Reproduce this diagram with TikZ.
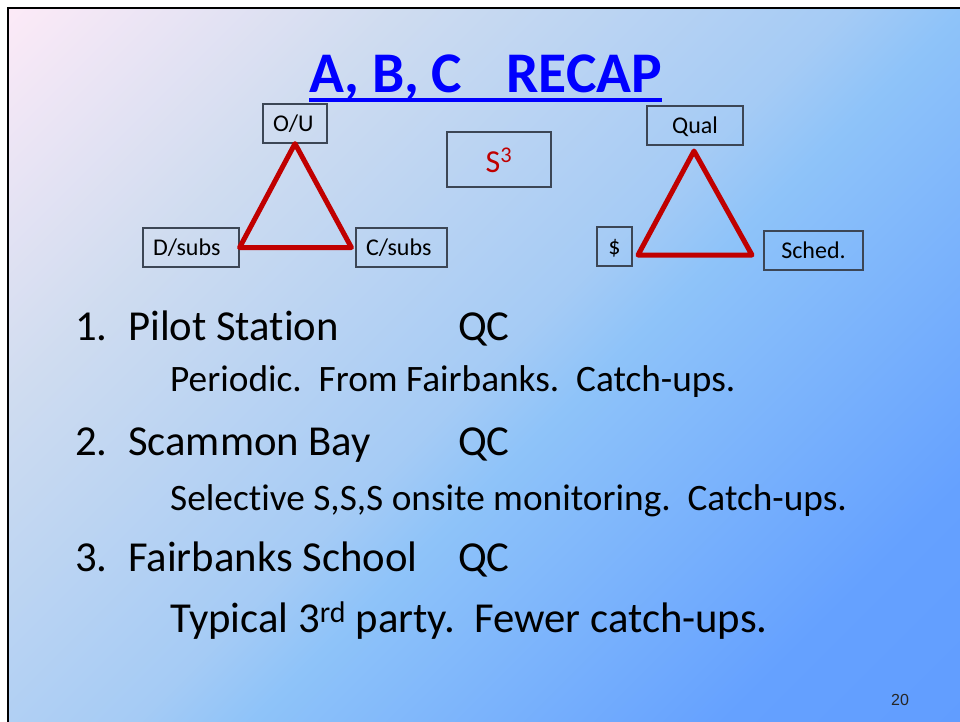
\documentclass[tikz,border=0pt]{standalone}
\usepackage{fontspec}
\setmainfont{Carlito}[Ligatures=NoCommon]
\newfontfamily\pagefont{Liberation Sans}
\usetikzlibrary{positioning}

\definecolor{gtop}{RGB}{252,234,247}
\definecolor{gquarter}{RGB}{207,220,240}
\definecolor{ghalf}{RGB}{165,203,245}
\definecolor{gmid}{RGB}{142,195,249}
\definecolor{glow}{RGB}{101,161,255}
\definecolor{gbot}{RGB}{97,157,255}
\definecolor{trired}{RGB}{192,0,0}
\definecolor{boxgray}{RGB}{60,70,85}
\definecolor{titleblue}{RGB}{0,0,255}

\pgfdeclareverticalshading{slidegrad}{100bp}{color(0bp)=(gbot); color(14.64bp)=(gbot);
  color(25bp)=(glow); color(45bp)=(gmid); color(50bp)=(ghalf); color(69bp)=(gquarter);
  color(85.36bp)=(gtop); color(100bp)=(gtop)}

\begin{document}
\begin{tikzpicture}[x=1pt,y=-1pt,
    lbox/.style={draw=boxgray,line width=1.2pt,inner ysep=0pt,minimum height=39pt,
                 text height=16pt,text depth=0pt,font=\fontsize{24}{28}\selectfont},
    lleft/.style={lbox,inner xsep=10pt,align=left},
    tri/.style={draw=trired,line width=5pt,line join=round},
    itemtext/.style={anchor=base west,inner sep=0pt,font=\fontsize{42.7}{50}\selectfont},
    subtext/.style={anchor=base west,inner sep=0pt,font=\fontsize{37.3}{44}\selectfont}]

   % Slide
      \useasboundingbox (0,0) rectangle (960,721);
      \fill[white] (0,0) rectangle (960,721);
      \shade[shading=slidegrad,shading angle=45] (8,8) rectangle (968,728);
      \draw[line width=2.7pt] (8,730) -- (8,8) -- (970,8);

   % Title
      \node[anchor=base west,inner sep=0pt,text=titleblue,font=\fontsize{57.5}{64}\bfseries]
            (title) at (309,92) {A, B, C\hspace{44pt}RECAP};
      \draw[titleblue,line width=3.5pt] ([yshift=-8pt]title.base west) -- ([yshift=-8pt]title.base east);

   % Nodes
      \node[lleft,text width=44pt]  (ou)    at (295,123.5)   {O/U};
      \node[lleft,text width=76pt]  (dsubs) at (191,247.5)   {D/subs};
      \node[lleft,text width=71pt]  (csubs) at (401.5,247.5) {C/subs};
      \node[lbox,minimum width=104pt,minimum height=55pt,text height=25pt,text=trired,
            font=\fontsize{32}{38}\selectfont] (sss) at (499,159.5) {S\textsuperscript{3}};
      \node[lbox,minimum width=96pt] (qual)  at (695,125.5)   {Qual};
      \node[lbox,minimum width=35pt] (cost)  at (614.5,246.5) {\$};
      \node[lbox,minimum width=99pt] (sched) at (813.5,250.5) {Sched.};

      \coordinate (qtop)   at (694,151);
      \coordinate (qleft)  at (638,255);
      \coordinate (qright) at (752,255);

   % Paths
      \draw[tri] (ou.south) -- (dsubs.east) -- ([xshift=-4pt]csubs.west) -- cycle;
      \draw[tri] (qtop) -- (qleft) -- (qright) -- cycle;

   % List
      \node[itemtext] (n1) at (75,340)  {1.};
      \node[itemtext] (p1) at (128,340) {Pilot Station};
      \node[itemtext] (q1) at (458,340) {QC};
      \node[subtext]  (d1) at (170,391) {Periodic.\ \ From Fairbanks.\ \ Catch-ups.};
      \node[itemtext] (n2) at (75,455)  {2.};
      \node[itemtext] (p2) at (128,455) {Scammon Bay};
      \node[itemtext] (q2) at (458,455) {QC};
      \node[subtext]  (d2) at (170,510) {Selective S,S,S onsite monitoring.\ \ Catch-ups.};
      \node[itemtext] (n3) at (75,571)  {3.};
      \node[itemtext] (p3) at (128,571) {Fairbanks School};
      \node[itemtext] (q3) at (458,571) {QC};
      \node[itemtext] (d3) at (170,632) {Typical 3\textsuperscript{rd} party.\ \ Fewer catch-ups.};

      \node[anchor=base west,inner sep=0pt,text=black!85,font=\pagefont\fontsize{16}{18}\selectfont]
            (pnum) at (891,705) {20};
\end{tikzpicture}
\end{document}
